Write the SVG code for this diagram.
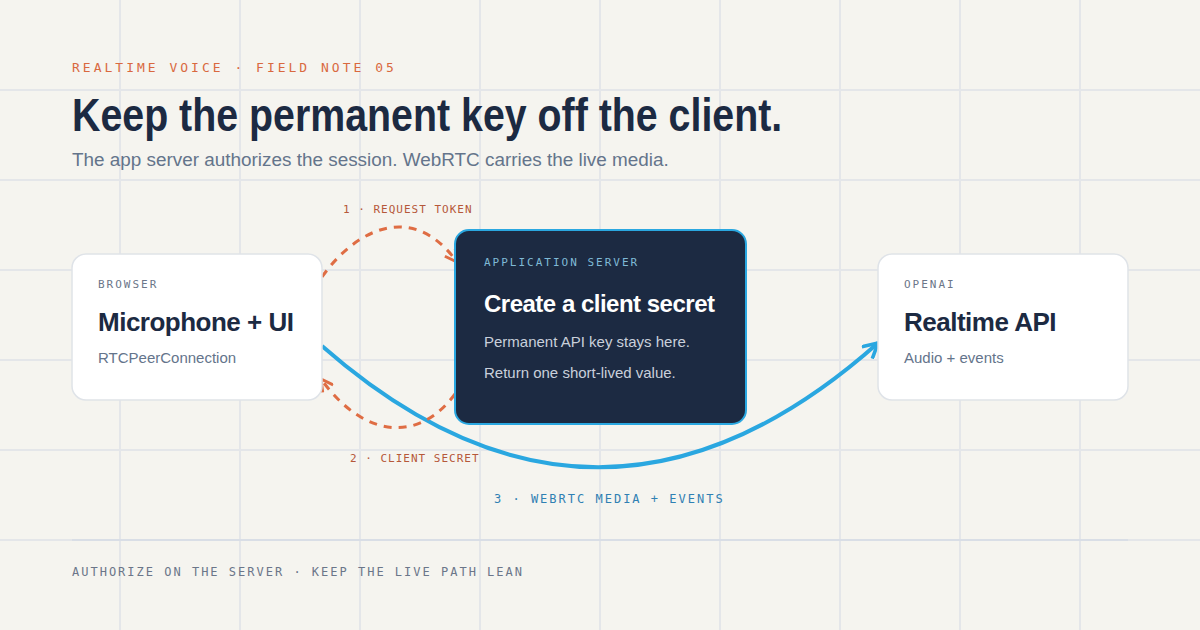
<svg xmlns="http://www.w3.org/2000/svg" width="1200" height="630" viewBox="0 0 1200 630">
<defs>
<style>
.grid line{stroke:#e4e6e9;stroke-width:2}
.mono{font-family:"DejaVu Sans Mono","Liberation Mono",monospace}
.sans{font-family:"Liberation Sans",Arial,sans-serif}
.kicker{font-size:11px;letter-spacing:2px;fill:#6b7689}
.ntitle{font-size:26px;font-weight:bold;letter-spacing:-0.5px;fill:#1c2a42}
.nsub{font-size:15px;fill:#64748b}
.card{fill:#ffffff;stroke:#dfe3e8;stroke-width:1.5}
.req{fill:none;stroke:#df6d44;stroke-width:3;stroke-dasharray:8 7}
.olabel{font-size:11px;letter-spacing:1px;fill:#b5583a}
</style>
<marker id="ao" viewBox="0 0 14 14" refX="12" refY="7" markerWidth="15" markerHeight="15" markerUnits="userSpaceOnUse" orient="auto">
<path d="M1,1 L12,7 L1,13" fill="none" stroke="#df6d44" stroke-width="2.8"/>
</marker>
<marker id="ab" viewBox="0 0 16 16" refX="14" refY="8" markerWidth="18" markerHeight="18" markerUnits="userSpaceOnUse" orient="auto">
<path d="M1,1 L14,8 L1,15" fill="none" stroke="#2aa7e0" stroke-width="3.2"/>
</marker>
</defs>
<rect width="1200" height="630" fill="#f5f4ef"/>
<g class="grid">
<line x1="120" y1="0" x2="120" y2="630"/><line x1="240" y1="0" x2="240" y2="630"/><line x1="360" y1="0" x2="360" y2="630"/><line x1="480" y1="0" x2="480" y2="630"/><line x1="600" y1="0" x2="600" y2="630"/><line x1="720" y1="0" x2="720" y2="630"/><line x1="840" y1="0" x2="840" y2="630"/><line x1="960" y1="0" x2="960" y2="630"/><line x1="1080" y1="0" x2="1080" y2="630"/>
<line x1="0" y1="90" x2="1200" y2="90"/><line x1="0" y1="180" x2="1200" y2="180"/><line x1="0" y1="270" x2="1200" y2="270"/><line x1="0" y1="360" x2="1200" y2="360"/><line x1="0" y1="450" x2="1200" y2="450"/><line x1="0" y1="540" x2="1200" y2="540"/>
</g>
<line x1="72" y1="540" x2="1128" y2="540" stroke="#d9dee6" stroke-width="2"/>
<text x="72" y="72" class="mono" font-size="13" letter-spacing="3" fill="#d9693f">REALTIME VOICE · FIELD NOTE 05</text>
<text transform="translate(72,131) scale(0.837,1)" class="sans" font-size="47" font-weight="bold" fill="#1c2a42">Keep the permanent key off the client.</text>
<text x="72" y="166" class="sans" font-size="18.9" fill="#64748b">The app server authorizes the session. WebRTC carries the live media.</text>

<g id="connectors">
<path d="M322,346 Q600,590 878,343" fill="none" stroke="#2aa7e0" stroke-width="4" marker-end="url(#ab)"/>
<path class="req" d="M322,277 C355,230 412,200 457,262" marker-end="url(#ao)"/>
<path class="req" d="M455,394 C420,442 365,440 321,379" marker-end="url(#ao)"/>
<text x="343" y="213" class="mono olabel">1 · REQUEST TOKEN</text>
<text x="350" y="462" class="mono olabel">2 · CLIENT SECRET</text>
<text x="494" y="503" class="mono" font-size="12" letter-spacing="2" fill="#2f80b3">3 · WEBRTC MEDIA + EVENTS</text>
</g>

<g id="browser">
<rect class="card" x="72" y="254" width="250" height="146" rx="14"/>
<text x="98" y="288" class="mono kicker">BROWSER</text>
<text x="98" y="331" class="sans ntitle">Microphone + UI</text>
<text x="98" y="363" class="sans nsub">RTCPeerConnection</text>
</g>

<g id="server">
<rect x="455" y="230" width="291" height="194" rx="14" fill="#1c2a42" stroke="#2aa7e0" stroke-width="2"/>
<text x="484" y="266" class="mono" font-size="11" letter-spacing="2" fill="#7fbad6">APPLICATION SERVER</text>
<text x="484" y="312" class="sans" font-size="24" font-weight="bold" letter-spacing="-0.5" fill="#ffffff">Create a client secret</text>
<text x="484" y="347" class="sans" font-size="15" fill="#c9d0db">Permanent API key stays here.</text>
<text x="484" y="378" class="sans" font-size="15" fill="#c9d0db">Return one short-lived value.</text>
</g>

<g id="openai">
<rect class="card" x="878" y="254" width="250" height="146" rx="14"/>
<text x="904" y="288" class="mono kicker">OPENAI</text>
<text x="904" y="331" class="sans ntitle">Realtime API</text>
<text x="904" y="363" class="sans nsub">Audio + events</text>
</g>

<text x="72" y="576" class="mono" font-size="12" letter-spacing="2" fill="#6b7689">AUTHORIZE ON THE SERVER · KEEP THE LIVE PATH LEAN</text>
</svg>
